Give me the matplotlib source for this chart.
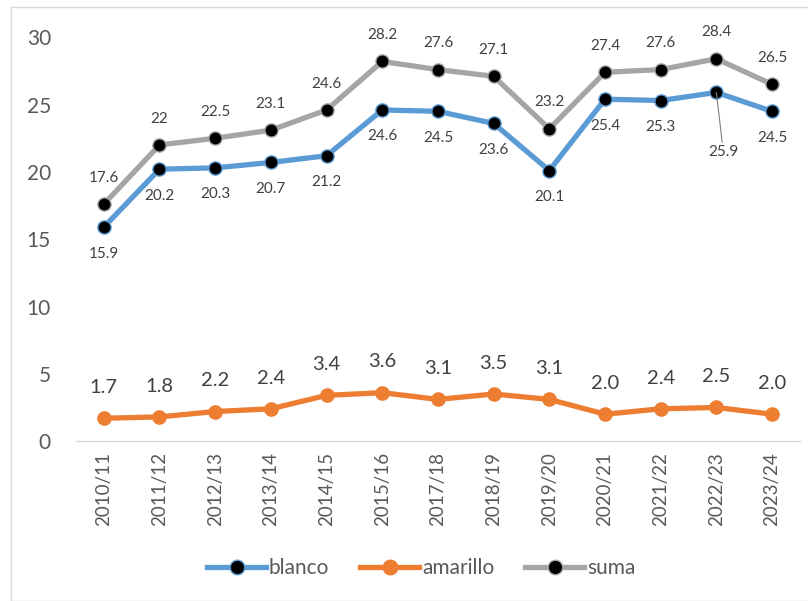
import matplotlib.pyplot as plt
from matplotlib.patches import Rectangle

temporadas = ['2010/11', '2011/12', '2012/13', '2013/14', '2014/15', '2015/16', '2017/18',
              '2018/19', '2019/20', '2020/21', '2021/22', '2022/23', '2023/24']
blanco = [15.9, 20.2, 20.3, 20.7, 21.2, 24.6, 24.5, 23.6, 20.1, 25.4, 25.3, 25.9, 24.5]
amarillo = [1.7, 1.8, 2.2, 2.4, 3.4, 3.6, 3.1, 3.5, 3.1, 2.0, 2.4, 2.5, 2.0]
suma = [17.6, 22, 22.5, 23.1, 24.6, 28.2, 27.6, 27.1, 23.2, 27.4, 27.6, 28.4, 26.5]

plt.rcParams['font.family'] = ['Lato', 'DejaVu Sans']
txt = '#404040'

fig = plt.figure(figsize=(8.08, 6.01), dpi=100)
ax = fig.add_axes([0.094, 0.266, 0.896, 0.672])
fig.patches.append(Rectangle((11 / 808, 0), 1, 1 - 7 / 601, transform=fig.transFigure,
                             fill=False, edgecolor='#d9d9d9', linewidth=1))

x = list(range(len(temporadas)))
ax.plot(x, blanco, color='#5b9bd5', lw=3.8, marker='o', ms=9.5, mfc='black',
        mec='#5b9bd5', mew=1, label='blanco', zorder=3)
ax.plot(x, amarillo, color='#ed7d31', lw=3.8, marker='o', ms=9.5, mfc='#ed7d31',
        mec='#ed7d31', label='amarillo', zorder=3)
ax.plot(x, suma, color='#a5a5a5', lw=3.8, marker='o', ms=9.5, mfc='black',
        mec='#a5a5a5', mew=1, label='suma', zorder=3)

# etiquetas de datos
for i, v in enumerate(suma):
    ax.annotate(f'{v:g}', (i, v), xytext=(0, 14), textcoords='offset points',
                ha='center', va='bottom', fontsize=11, color=txt)
for i, v in enumerate(blanco):
    if i == 11:
        ax.annotate(f'{v:g}', (i, v), xytext=(5, -38), textcoords='offset points',
                    ha='center', va='top', fontsize=11, color=txt,
                    arrowprops=dict(arrowstyle='-', color='#7f7f7f', lw=0.8,
                                    shrinkA=0, shrinkB=0))
    else:
        ax.annotate(f'{v:g}', (i, v), xytext=(0, -14), textcoords='offset points',
                    ha='center', va='top', fontsize=11, color=txt)
for i, v in enumerate(amarillo):
    ax.annotate(f'{v:.1f}', (i, v), xytext=(0, 16), textcoords='offset points',
                ha='center', va='bottom', fontsize=14.5, color=txt)

ax.set_xlim(-0.5, len(temporadas) - 0.5)
ax.set_ylim(0, 30)
ax.set_yticks(range(0, 31, 5))
ax.set_xticks(x)
ax.set_xticklabels(temporadas, rotation=90)
ax.tick_params(axis='y', length=0, labelsize=15, labelcolor='#595959', pad=18)
ax.tick_params(axis='x', length=0, labelsize=13.5, labelcolor='#595959', pad=8)
for s in ['top', 'right', 'left']:
    ax.spines[s].set_visible(False)
ax.spines['bottom'].set_color('#d9d9d9')
ax.spines['bottom'].set_linewidth(1)

leg = ax.legend(loc='center', bbox_to_anchor=(0.477, -0.314), ncol=3, frameon=False,
                fontsize=15, handlelength=2.8, columnspacing=1.5, handletextpad=0.15,
                markerscale=1.1)
for t in leg.get_texts():
    t.set_color('#595959')

fig.savefig('out.png', dpi=100)
